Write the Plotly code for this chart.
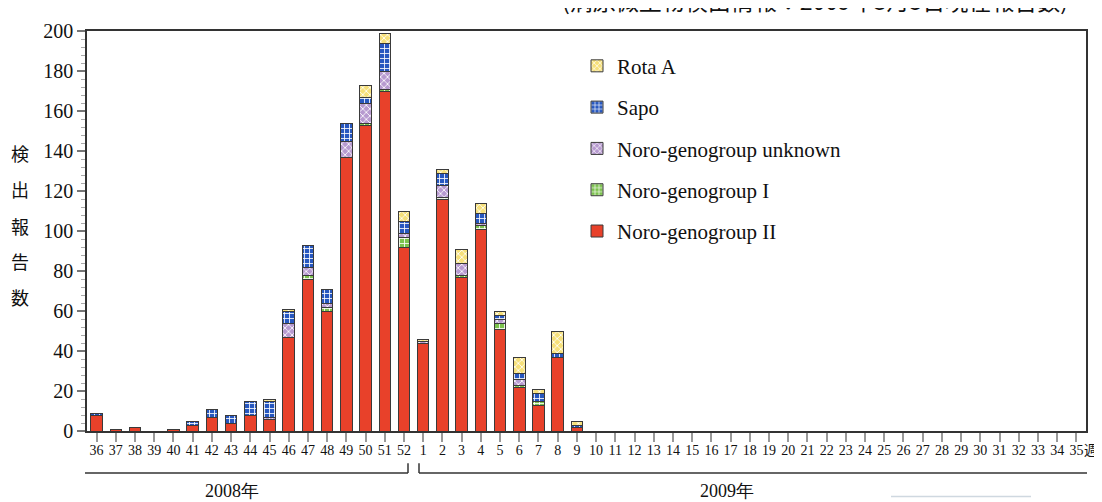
import plotly.graph_objects as go

# ---- data -------------------------------------------------------------
weeks = ["36", "37", "38", "39", "40", "41", "42", "43", "44", "45", "46", "47", "48",
         "49", "50", "51", "52",
         "1", "2", "3", "4", "5", "6", "7", "8", "9", "10", "11", "12", "13", "14", "15",
         "16", "17", "18", "19", "20", "21", "22", "23", "24", "25", "26", "27", "28",
         "29", "30", "31", "32", "33", "34", "35"]

#                 36 37 38 39 40 41 42 43 44 45 46  47  48  49   50   51   52
noro_gii = [8, 1, 2, 0, 1, 3, 7, 4, 8, 6, 47, 76, 60, 137, 153, 170, 92,
            # 1   2   3   4    5   6   7   8   9  10..35
            44, 116, 77, 101, 51, 22, 13, 37, 2] + [0] * 26
noro_gi = [0, 0, 0, 0, 0, 0, 0, 0, 0, 0, 0, 2, 2, 0, 1, 1, 5,
           0, 1, 1, 2, 3, 1, 2, 0, 0] + [0] * 26
noro_unknown = [0, 0, 0, 0, 0, 0, 0, 0, 0, 1, 7, 4, 2, 8, 10, 9, 2,
                1, 6, 6, 1, 2, 3, 0, 0, 0] + [0] * 26
sapo = [1, 0, 0, 0, 0, 2, 4, 4, 7, 8, 6, 11, 7, 9, 3, 14, 6,
        0, 6, 0, 5, 2, 3, 4, 2, 1] + [0] * 26
rota_a = [0, 0, 0, 0, 0, 0, 0, 0, 0, 1, 1, 0, 0, 0, 6, 5, 5,
          1, 2, 7, 5, 2, 8, 2, 11, 2] + [0] * 26

# name, values, colour, pattern shape, pattern colour, legend rank
series = [
    ("Noro-genogroup II", noro_gii, "#e8412a", "", "#e8412a", 5),
    ("Noro-genogroup I", noro_gi, "#7cc24e", "+", "#ffffff", 4),
    ("Noro-genogroup unknown", noro_unknown, "#b79ad0", "x", "#ffffff", 3),
    ("Sapo", sapo, "#2757bf", "+", "#ffffff", 2),
    ("Rota A", rota_a, "#f6e07a", "x", "#ffffff", 1),
]

# ---- geometry helpers (window pixel -> paper) --------------------------
OFF = 8  # the page body keeps its default 8px margin
WIN_W, WIN_H = 1102, 502
W, H = WIN_W - OFF, WIN_H - OFF
L, R, T, B = 87, 1086, 22, 431  # plot area in window pixels


def px(x):
    return (x - L) / (R - L)


def py(y):
    return (B - y) / (B - T)


fig = go.Figure()
for i, (name, vals, col, shape, fg, rank) in enumerate(series):
    marker = dict(color=col, line=dict(color="#3a3a3a", width=1))
    if shape:
        marker["pattern"] = dict(shape=shape, bgcolor=col, fgcolor=fg, size=5,
                                 solidity=0.3, fillmode="replace")
    fig.add_trace(go.Bar(x=weeks, y=vals, name=name, marker=marker,
                         legendgroup=f"g{i}", legendrank=rank))

serif = "Liberation Serif"
cjk = "Noto Sans CJK JP"

fig.update_layout(
    width=W, height=H,
    margin=dict(l=L - OFF, r=WIN_W - R, t=T - OFF, b=WIN_H - B, pad=0),
    barmode="stack", bargap=0.4,
    plot_bgcolor="white", paper_bgcolor="white",
    font=dict(family=serif, color="#111", size=14),
    showlegend=True,
    legend=dict(x=px(577), y=py(37), xanchor="left", yanchor="top",
                traceorder="grouped", tracegroupgap=11,
                font=dict(family=serif, size=21, color="#111"),
                bgcolor="rgba(0,0,0,0)"),
)

fig.update_xaxes(
    type="category", categoryorder="array", categoryarray=weeks,
    showline=True, linecolor="#333", linewidth=1.5, mirror=True,
    ticks="outside", ticklen=9, tickwidth=1.5, tickcolor="#999",
    ticklabelstandoff=-4,
    tickfont=dict(family=serif, size=14, color="#111"),
    showgrid=False, zeroline=False,
)
fig.update_yaxes(
    range=[0, 200], dtick=20, tick0=0,
    showline=True, linecolor="#333", linewidth=1.5, mirror=True,
    ticks="outside", ticklen=8, tickwidth=1.5, tickcolor="#777",
    minor=dict(dtick=4, ticks="outside", ticklen=4, tickcolor="#aaa", tickwidth=1),
    tickfont=dict(family=serif, size=20, color="#111"),
    showgrid=False, zeroline=False,
)

# y-axis title, one character per line
for ch, yy in zip("検出報告数", [147, 184, 221, 257, 294]):
    fig.add_annotation(text=ch, xref="paper", yref="paper", x=px(20), y=py(yy),
                       showarrow=False, xanchor="center", yanchor="middle",
                       font=dict(family=cjk, size=18, color="#111"))

# top note (partly cut off at the top edge)
fig.add_annotation(text="(病原微生物検出情報：2009年3月5日現在報告数)",
                   xref="paper", yref="paper", x=px(815), y=py(-10),
                   showarrow=False, xanchor="center", yanchor="middle",
                   font=dict(family=cjk, size=23, color="#111"))

# week unit
fig.add_annotation(text="週", xref="paper", yref="paper", x=px(1091), y=py(449),
                   showarrow=False, xanchor="center", yanchor="middle",
                   font=dict(family=cjk, size=14, color="#111"))

# year brackets
line = dict(color="#333", width=1.5)
fig.add_shape(type="line", xref="paper", yref="paper", x0=px(85), x1=px(408),
              y0=py(474), y1=py(474), line=line)
fig.add_shape(type="line", xref="paper", yref="paper", x0=px(408), x1=px(408),
              y0=py(464), y1=py(474), line=line)
fig.add_shape(type="line", xref="paper", yref="paper", x0=px(419), x1=px(1087),
              y0=py(474), y1=py(474), line=line)
fig.add_shape(type="line", xref="paper", yref="paper", x0=px(419), x1=px(419),
              y0=py(464), y1=py(474), line=line)
fig.add_annotation(text="2008年", xref="paper", yref="paper", x=px(232), y=py(492),
                   showarrow=False, xanchor="center", yanchor="middle",
                   font=dict(family=serif, size=18, color="#111"))
fig.add_annotation(text="2009年", xref="paper", yref="paper", x=px(727), y=py(492),
                   showarrow=False, xanchor="center", yanchor="middle",
                   font=dict(family=serif, size=18, color="#111"))
# faint box edge at bottom right
fig.add_shape(type="line", xref="paper", yref="paper", x0=px(891), x1=px(1031),
              y0=py(498), y1=py(498), line=dict(color="#cfd8e0", width=1.5))

fig.write_html("out.html")
